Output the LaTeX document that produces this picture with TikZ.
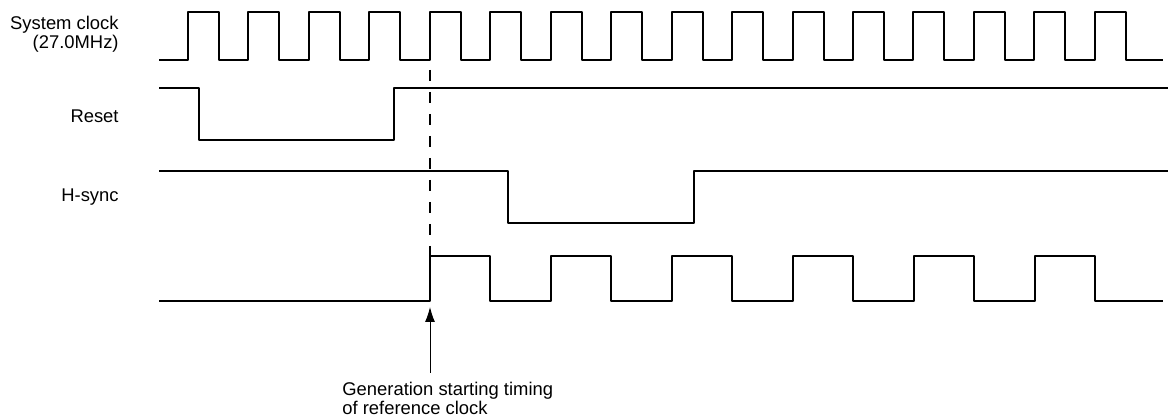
\documentclass[tikz,border=0pt]{standalone}
\usepackage{fontspec}
\setmainfont{Liberation Sans}
\usetikzlibrary{arrows.meta,calc}

\begin{document}
\begin{tikzpicture}[x=0.5pt,y=0.5pt,
  sig/.style={line width=1pt,line join=round},
  lbl/.style={anchor=base east,inner sep=0pt,align=right,font=\fontsize{9.2pt}{8.4pt}\selectfont}]
\useasboundingbox (0,0) rectangle (1168,416);
\node[lbl] (sysclk) at (119,367) {System clock\\(27.0MHz)};
\node[lbl] (reset) at (119,293) {Reset};
\node[lbl] (hsync) at (119,214) {H-sync};
\draw[sig] (159,356) \foreach \k in {0,...,15} {-- ({188+60.45*\k},356) -- ++(0,48) -- ++(31,0) -- ++(0,-48)} -- (1163,356);
\draw[sig] (159,328) -- (199,328) -- (199,276) -- (394,276) -- (394,328) -- (1168,328);
\draw[sig] (159,245) -- (508,245) -- (508,193) -- (694,193) -- (694,245) -- (1168,245);
\draw[sig] (159,115) \foreach \k in {0,...,5} {-- ({430+120.9*\k},115) -- ++(0,45) -- ++(60.45,0) -- ++(0,-45)} -- (1163,115);
\coordinate (edge) at (430,109);
\draw[line width=0.6pt,dash pattern=on 5.5pt off 5.5pt] (edge |- 0,346) -- (edge |- 0,160);
\node[anchor=north west,inner sep=0pt,align=left,font=\fontsize{9.2pt}{8pt}\selectfont] (gen) at (342,34) {Generation starting timing\\of reference clock};
\draw[-{Latex[length=7.5pt,width=5pt]},line width=0.5pt] ($(gen.north -| edge)+(0,9)$) -- (edge);
\end{tikzpicture}
\end{document}
